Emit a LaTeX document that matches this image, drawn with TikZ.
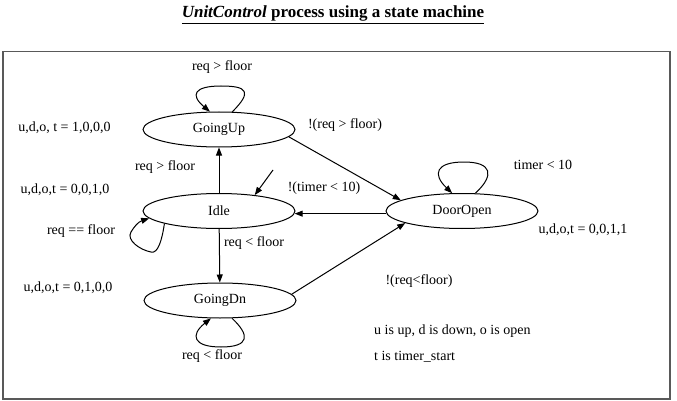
\documentclass[tikz,border=0pt]{standalone}
\usepackage{fontspec}
\setmainfont{Liberation Serif}
\usetikzlibrary{shapes.geometric,arrows.meta}
\begin{document}
\begin{tikzpicture}[x=1pt,y=-1pt,
  state/.style={draw,ellipse,line width=1pt,minimum width=152pt,minimum height=35pt,inner sep=0pt,font=\fontsize{14}{16}\selectfont},
  lbl/.style={inner sep=0pt,font=\fontsize{14}{16}\selectfont},
  arr/.style={line width=1pt,-{Triangle[length=8pt,width=6pt]}},
  frame/.style={draw=black!65,line width=1.8pt}]
\useasboundingbox (0,0) rectangle (677,401);
\node[inner sep=0pt,anchor=base,font=\fontsize{17}{20}\selectfont\bfseries] (title) at (333,18) {\underline{\textit{UnitControl} process using a state machine}};
\draw[frame] (3,51.5) rectangle (670,399);
\node[state] (GoingUp) at (219,129.5) {GoingUp};
\node[state] (Idle) at (219,211) {Idle};
\node[state] (GoingDn) at (220,300.5) {GoingDn};
\node[state] (DoorOpen) at (462,211) {DoorOpen};
\coordinate (init) at (273,170);
% edges
\draw[arr] (init) -- (Idle.24);
\draw[arr] (Idle) -- (GoingUp);
\draw[arr] (Idle) -- (GoingDn);
\draw[arr] (GoingUp.-6) -- (DoorOpen.170);
\draw[arr] (DoorOpen.182) -- (Idle.-2);
\draw[arr] (GoingDn.5) -- (DoorOpen.192);
% loops
\draw[arr] (GoingUp.53) .. controls (252,92) and (248,86) .. (221,86) .. controls (194,86) and (190,95) .. (GoingUp.117);
\draw[arr] (DoorOpen.53) .. controls (495,175) and (492,162) .. (464,162) .. controls (436,162) and (432,174) .. (DoorOpen.119);
\draw[arr] (GoingDn.304) .. controls (250,335) and (250,347) .. (221,347) .. controls (193,347) and (190,335) .. (GoingDn.243);
\draw[arr] (Idle.193) .. controls (162,240) and (158,254) .. (151,252) .. controls (140,250) and (126,240) .. (131,232) .. controls (134,227) and (138,222) .. (Idle.186);
% labels
\node[lbl] (l1) at (222,67) {req > floor};
\node[lbl] (l2) at (64.5,128) {u,d,o, t = 1,0,0,0};
\node[lbl] (l3) at (345,125) {!(req > floor)};
\node[lbl] (l4) at (165,167) {req > floor};
\node[lbl] (l5) at (65,190) {u,d,o,t = 0,0,1,0};
\node[lbl] (l6) at (324,188) {!(timer < 10)};
\node[lbl] (l7) at (543,165) {timer < 10};
\node[lbl] (l8) at (81,231) {req == floor};
\node[lbl] (l9) at (254,243) {req < floor};
\node[lbl] (l10) at (583,230) {u,d,o,t = 0,0,1,1};
\node[lbl] (l11) at (68,288) {u,d,o,t = 0,1,0,0};
\node[lbl] (l12) at (419,281) {!(req<floor)};
\node[lbl,anchor=west] (l13) at (374,331) {u is up, d is down, o is open};
\node[lbl,anchor=west] (l14) at (374,357) {t is timer\_start};
\node[lbl] (l15) at (212,356) {req < floor};
\end{tikzpicture}
\end{document}
